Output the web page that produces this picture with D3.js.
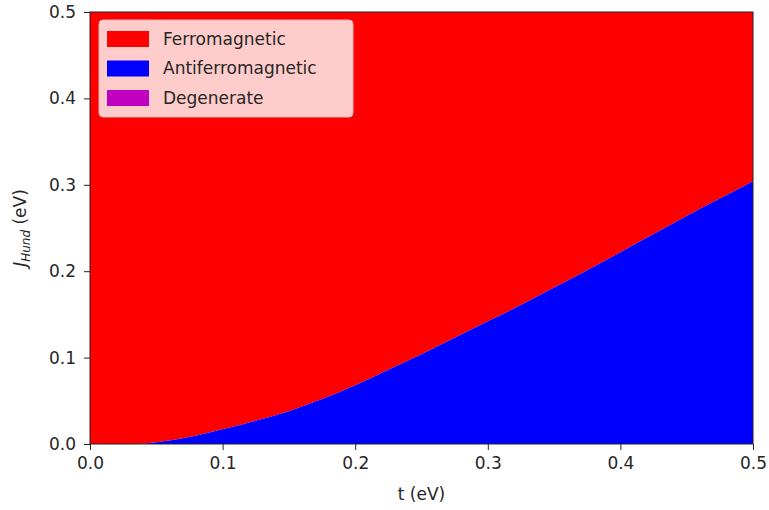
<!DOCTYPE html>
<html>
<head>
<meta charset="utf-8">
<script src="https://cdn.jsdelivr.net/npm/d3@7"></script>
<style>
  body { margin: 0; background: #fff; }
  svg text { font-family: "DejaVu Sans", sans-serif; fill: #262626; }
</style>
</head>
<body>
<svg width="769" height="510"></svg>
<script>
// hopping t (eV) and the Hund coupling where the ground state turns ferromagnetic
const tValues = [0, 0.02, 0.035, 0.05, 0.075, 0.1, 0.125, 0.15, 0.175, 0.2, 0.225, 0.25,
                 0.275, 0.3, 0.325, 0.35, 0.375, 0.4, 0.425, 0.45, 0.475, 0.5];
const jBoundary = [0, 0, 0, 0.002, 0.008, 0.017, 0.027, 0.038, 0.052, 0.068, 0.086, 0.104,
                   0.123, 0.142, 0.161, 0.181, 0.201, 0.222, 0.243, 0.264, 0.284, 0.304];
const phases = ["Ferromagnetic", "Antiferromagnetic", "Degenerate"];
const phaseColors = ["#ff0000", "#0000ff", "#bf00bf"];
const xTicks = [0, 0.1, 0.2, 0.3, 0.4, 0.5];
const yTicks = [0, 0.1, 0.2, 0.3, 0.4, 0.5];

const data = tValues.map((t, i) => ({ t, j: jBoundary[i] }));

const svg = d3.select("svg");
const margin = { left: 90, right: 16, top: 12, bottom: 66 };
const W = 769, H = 510;

const x = d3.scaleLinear().domain([0, 0.5]).range([margin.left, W - margin.right]);
const y = d3.scaleLinear().domain([0, 0.5]).range([H - margin.bottom, margin.top]);

// ferromagnetic region (above boundary)
const ferro = d3.area()
  .x(d => x(d.t))
  .y0(y(0.5))
  .y1(d => y(d.j))
  .curve(d3.curveMonotoneX);

// antiferromagnetic region (below boundary)
const anti = d3.area()
  .x(d => x(d.t))
  .y0(y(0))
  .y1(d => y(d.j))
  .curve(d3.curveMonotoneX);

svg.append("path").attr("d", ferro(data)).attr("fill", phaseColors[0]);
svg.append("path").attr("d", anti(data)).attr("fill", phaseColors[1]);

// axes
const fs = 17;
const xAxis = svg.append("g")
  .attr("transform", `translate(0,${y(0)})`)
  .call(d3.axisBottom(x).tickValues(xTicks).tickFormat(d3.format(".1f")).tickSize(6).tickPadding(6));
const yAxis = svg.append("g")
  .attr("transform", `translate(${x(0)},0)`)
  .call(d3.axisLeft(y).tickValues(yTicks).tickFormat(d3.format(".1f")).tickSize(6).tickPadding(8));

[xAxis, yAxis].forEach(g => {
  g.select(".domain").remove();
  g.selectAll("line").attr("stroke", "#222");
  g.selectAll("text").style("font-size", fs + "px").attr("fill", "#262626")
    .style("font-family", "DejaVu Sans, sans-serif");
});
xAxis.selectAll("text").attr("dy", "0.75em");

svg.append("rect")
  .attr("x", x(0)).attr("y", y(0.5))
  .attr("width", x(0.5) - x(0)).attr("height", y(0) - y(0.5))
  .attr("fill", "none").attr("stroke", "#222").attr("stroke-width", 1);

// axis labels
svg.append("text")
  .attr("x", (x(0) + x(0.5)) / 2).attr("y", 500)
  .attr("text-anchor", "middle")
  .style("font-size", fs + "px")
  .text("t (eV)");

const yl = svg.append("text")
  .attr("transform", `translate(26,${(y(0) + y(0.5)) / 2}) rotate(-90)`)
  .attr("text-anchor", "middle")
  .style("font-size", fs + "px");
yl.append("tspan").style("font-style", "italic").text("J");
yl.append("tspan").style("font-style", "italic").style("font-size", "12px").attr("dy", 4).text("Hund");
yl.append("tspan").attr("dy", -4).text(" (eV)");

// legend
const lg = svg.append("g").attr("transform", "translate(99,20)");
lg.append("rect")
  .attr("width", 254).attr("height", 97)
  .attr("rx", 4)
  .attr("fill", "#ffcccc").attr("stroke", "#d0b8b8");
phases.forEach((p, i) => {
  const row = lg.append("g").attr("transform", `translate(0,${11 + i * 29.5})`);
  row.append("rect").attr("x", 8).attr("width", 42).attr("height", 16).attr("fill", phaseColors[i]);
  row.append("text").attr("x", 64).attr("y", 8).attr("dy", "0.35em")
    .style("font-size", fs + "px").text(p);
});
</script>
</body>
</html>
